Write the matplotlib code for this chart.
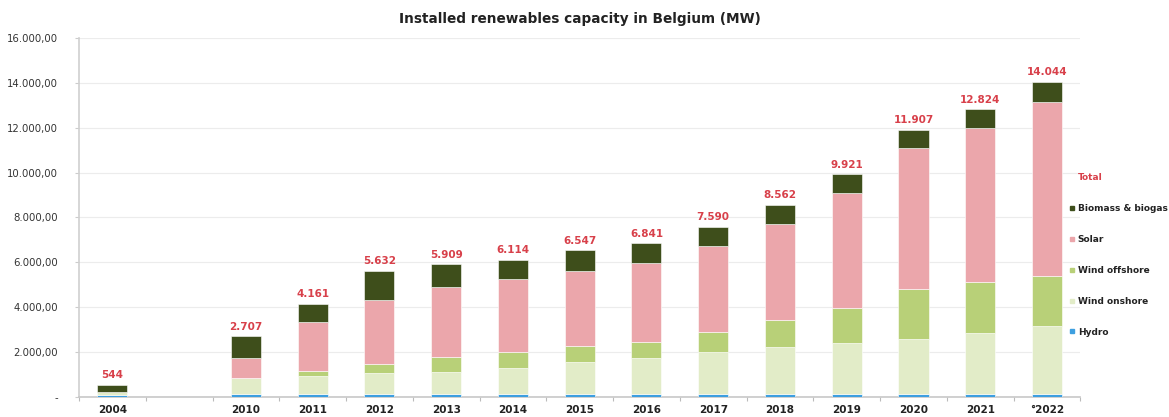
import matplotlib
matplotlib.use("Agg")
import matplotlib.pyplot as plt
from matplotlib.lines import Line2D
import numpy as np

categories = ["2004", "", "2010", "2011", "2012", "2013", "2014", "2015", "2016",
              "2017", "2018", "2019", "2020", "2021", "°2022"]
hydro = [110, 0, 120, 120, 120, 120, 120, 120, 120, 120, 120, 120, 120, 120, 120]
wind_onshore = [100, 0, 713, 829, 963, 1008, 1186, 1427, 1632, 1899, 2122, 2273, 2452, 2746, 3044]
wind_offshore = [0, 0, 0, 210, 374, 641, 713, 726, 713, 891, 1176, 1560, 2228, 2273, 2243]
solar = [0, 0, 892, 2170, 2866, 3147, 3240, 3356, 3521, 3834, 4306, 5126, 6311, 6864, 7755]
biomass = [334, 0, 982, 832, 1309, 993, 855, 918, 855, 846, 838, 842, 796, 821, 882]
total_labels = ["544", "", "2.707", "4.161", "5.632", "5.909", "6.114", "6.547", "6.841",
                "7.590", "8.562", "9.921", "11.907", "12.824", "14.044"]
yticks = [0, 2000, 4000, 6000, 8000, 10000, 12000, 14000, 16000]
ytick_labels = ["-", "2.000,00", "4.000,00", "6.000,00", "8.000,00", "10.000,00",
                "12.000,00", "14.000,00", "16.000,00"]

series = [
    ("Hydro", hydro, "#3d9fe0"),
    ("Wind onshore", wind_onshore, "#e2ecc8"),
    ("Wind offshore", wind_offshore, "#b8d078"),
    ("Solar", solar, "#eba6ab"),
    ("Biomass & biogas", biomass, "#3e4e1b"),
]
red = "#d8404a"

fig = plt.figure(figsize=(11.69, 4.17), dpi=100)
ax = fig.add_axes([0.0676, 0.048, 0.8566, 0.861])

x = np.arange(len(categories))
bottom = np.zeros(len(categories))
for name, vals, col in series:
    v = np.array(vals, dtype=float)
    ax.bar(x, v, width=0.45, bottom=bottom, color=col, edgecolor="white",
           linewidth=0.4, zorder=3)
    bottom += v

for xi, lab, b in zip(x, total_labels, bottom):
    if lab:
        ax.text(xi, b + 200, lab, ha="center", va="bottom", color=red,
                fontsize=7.5, fontweight="bold")

ax.set_xlim(-0.5, len(categories) - 0.5)
ax.set_ylim(0, 16000)
ax.set_yticks(yticks)
ax.set_yticklabels(ytick_labels, fontsize=7.3, color="#333333")
ax.set_xticks(x)
ax.set_xticklabels(categories, fontsize=7.5, fontweight="bold", color="#222222")
ax.set_xticks(np.arange(len(categories) + 1) - 0.5, minor=True)
ax.tick_params(axis="x", which="major", length=0, pad=6)
ax.tick_params(axis="x", which="minor", length=3, color="#bbbbbb", width=0.8)
ax.tick_params(axis="y", length=3, color="#cccccc", width=0.8, pad=12)
ax.yaxis.grid(True, color="#ececec", linewidth=0.8, zorder=0)
for s in ["top", "right"]:
    ax.spines[s].set_visible(False)
ax.spines["left"].set_color("#d0d0d0")
ax.spines["bottom"].set_color("#c8c8c8")
ax.spines["left"].set_linewidth(1.2)
ax.spines["bottom"].set_linewidth(1.2)

ax.set_title("Installed renewables capacity in Belgium (MW)", fontsize=9.8,
             fontweight="bold", color="#222222", pad=11)

handles = [Line2D([], [], linestyle="none", marker="s", markersize=0)]
labels = ["Total"]
for name, vals, col in reversed(series):
    handles.append(Line2D([], [], linestyle="none", marker="s", markersize=3.5,
                          markerfacecolor=col, markeredgecolor=col))
    labels.append(name)
leg = fig.legend(handles, labels, loc="upper left", bbox_to_anchor=(0.912, 0.594),
                 frameon=False, fontsize=6.5, handlelength=0.45, handletextpad=0.45,
                 labelspacing=2.43, borderaxespad=0)
for t in leg.get_texts():
    t.set_fontweight("bold")
    t.set_color("#222222")
leg.get_texts()[0].set_color(red)

fig.savefig("out.png", dpi=100)
